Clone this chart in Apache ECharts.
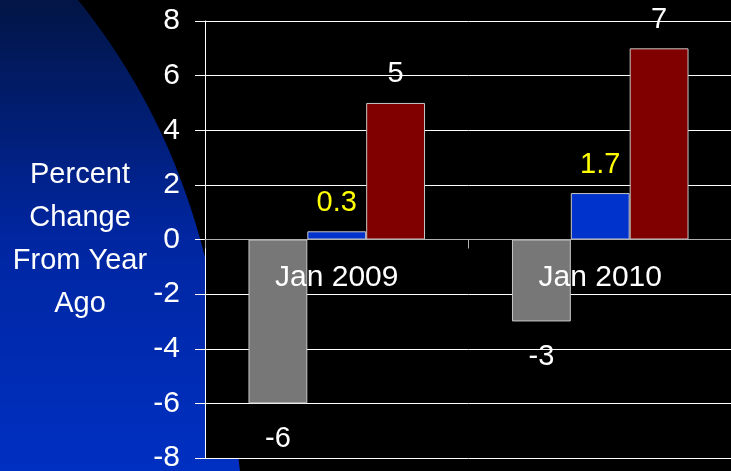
<!DOCTYPE html>
<html>
<head>
<meta charset="utf-8">
<script src="https://cdn.jsdelivr.net/npm/echarts@6/dist/echarts.min.js"></script>
<style>
  html, body { margin: 0; padding: 0; background: #000; }
  #chart { width: 731px; height: 471px; }
</style>
</head>
<body>
<div id="chart"></div>
<script>
// data
const categories = ["Jan 2009", "Jan 2010"];
const grayValues = [-6, -3];
const blueValues = [0.3, 1.7];
const redValues = [5, 7];
const yTicks = { min: -8, max: 8, step: 2 };

const FONT = "'Liberation Sans Narrow', 'Arial Narrow', 'Liberation Sans', sans-serif";

const chart = echarts.init(document.getElementById("chart"));

// outline of the blue swoosh in the slide background
function swooshPoints() {
  const p0 = [78, 0], p1 = [204, 157], p2 = [221, 314], p3 = [240, 471];
  const pts = [[0, 0]];
  for (let i = 0; i <= 40; i++) {
    const t = i / 40, u = 1 - t;
    pts.push([
      u * u * u * p0[0] + 3 * u * u * t * p1[0] + 3 * u * t * t * p2[0] + t * t * t * p3[0],
      u * u * u * p0[1] + 3 * u * u * t * p1[1] + 3 * u * t * t * p2[1] + t * t * t * p3[1]
    ]);
  }
  pts.push([0, 471]);
  return pts;
}

function barSeries(values, color, labelColor, pos, dist) {
  return {
    type: "bar",
    data: values,
    barGap: 0,
    barCategoryGap: "33%",
    itemStyle: { color: color, borderColor: "#c8c8c8", borderWidth: 1 },
    label: {
      show: true,
      position: pos,
      distance: dist,
      color: labelColor,
      fontFamily: FONT,
      fontSize: 29
    },
    emphasis: { disabled: true }
  };
}

chart.setOption({
  backgroundColor: "#000",
  animation: false,
  graphic: [
    {
      type: "polygon",
      z: -100,
      silent: true,
      shape: { points: swooshPoints() },
      style: {
        fill: {
          type: "linear", x: 0, y: 0, x2: 0, y2: 1,
          colorStops: [
            { offset: 0, color: "#021545" },
            { offset: 0.5, color: "#0026a0" },
            { offset: 1, color: "#0030c2" }
          ]
        }
      }
    }
  ],
  grid: {
    left: 205,
    right: -1,
    top: 21,
    bottom: 13,
    show: true,
    backgroundColor: "#000",
    borderWidth: 0,
    outerBoundsMode: "none"
  },
  xAxis: {
    type: "category",
    data: categories,
    position: "bottom",
    offset: -218.5, // sits on the zero line
    z: 5,
    axisLine: { onZero: false, lineStyle: { color: "#b0b0b0", width: 1 } },
    axisTick: { show: true, length: 9, lineStyle: { color: "#b0b0b0" } },
    axisLabel: { show: true, color: "#fff", fontFamily: FONT, fontSize: 30, margin: 23, interval: 0 },
    splitLine: { show: false }
  },
  yAxis: {
    type: "value",
    min: yTicks.min,
    max: yTicks.max,
    interval: yTicks.step,
    name: "Percent\nChange\nFrom Year\nAgo",
    nameLocation: "middle",
    nameRotate: 0,
    nameGap: 125,
    nameTextStyle: {
      color: "#fff",
      fontFamily: FONT,
      fontSize: 29,
      lineHeight: 43,
      align: "center",
      verticalAlign: "middle",
      padding: [14, 0, 0, 0]
    },
    axisLine: { show: true, lineStyle: { color: "#fff", width: 1 } },
    axisTick: { show: true, length: 10, lineStyle: { color: "#fff" } },
    axisLabel: { color: "#fff", fontFamily: FONT, fontSize: 30, margin: 25 },
    splitLine: { show: true, lineStyle: { color: "#fff", width: 1 } }
  },
  series: [
    barSeries(grayValues, "#777777", "#fff", "bottom", 21),
    barSeries(blueValues, "#0033cc", "#ffff00", "top", 14),
    barSeries(redValues, "#800000", "#fff", "top", 14)
  ]
});

window.addEventListener("resize", () => chart.resize());
</script>
</body>
</html>
